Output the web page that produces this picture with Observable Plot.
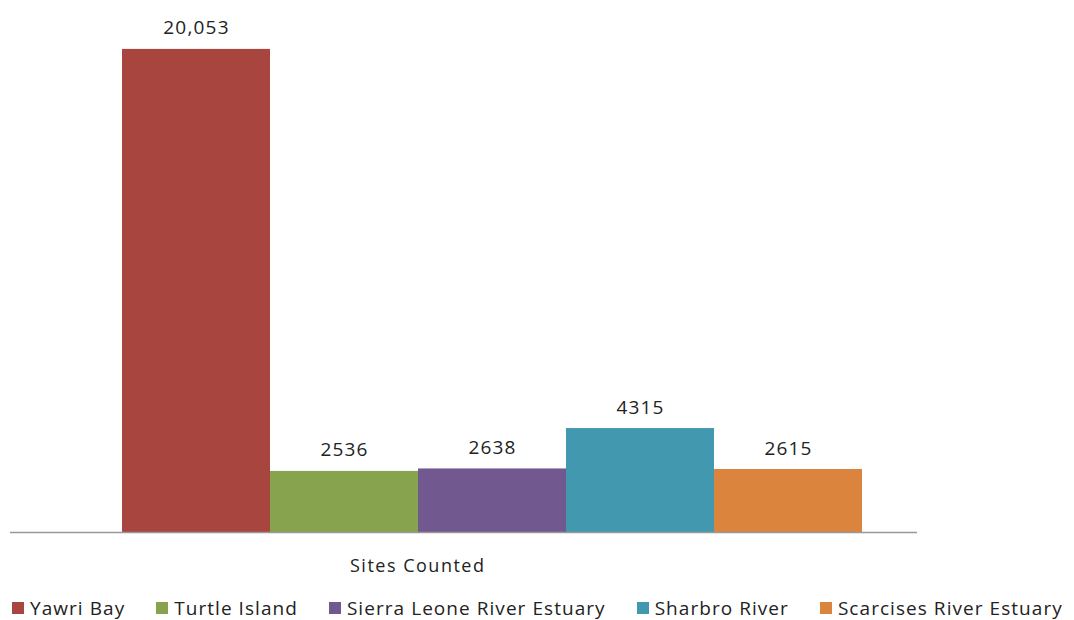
<!DOCTYPE html>
<html>
<head>
<meta charset="utf-8">
<script src="https://cdn.jsdelivr.net/npm/d3@7"></script>
<script src="https://cdn.jsdelivr.net/npm/@observablehq/plot@0.6"></script>
<style>
  html, body { margin: 0; padding: 0; background: #fff; }
  body { width: 1074px; height: 620px; overflow: hidden; font-family: "Open Sans", sans-serif; color: #222; }
  #chart svg { display: block; }
  #xlabel { position: relative; width: 1074px; height: 52px; }
  #xlabel span { position: absolute; left: 350px; top: 8px; font-size: 18px; letter-spacing: 1.5px; }
  #legend { display: flex; gap: 31px; padding-left: 12px; font-size: 19px; line-height: 22px; letter-spacing: 1.05px; }
  #legend .item { display: flex; align-items: center; white-space: nowrap; }
  #legend .sw { width: 12px; height: 12px; margin-right: 6px; display: inline-block; }
</style>
</head>
<body>
<div id="chart"></div>
<div id="xlabel"><span></span></div>
<div id="legend"></div>
<script>
const category = "Sites Counted";
const series = ["Yawri Bay", "Turtle Island", "Sierra Leone River Estuary", "Sharbro River", "Scarcises River Estuary"];
const values = [20053, 2536, 2638, 4315, 2615];
const valueLabels = ["20,053", "2536", "2638", "4315", "2615"];
const colors = ["#A8453F", "#87A34D", "#71588F", "#4298AE", "#DB843D"];

const data = series.map((s, i) => ({series: s, value: values[i], label: valueLabels[i], category}));

const chart = Plot.plot({
  width: 1074,
  height: 545,
  marginLeft: 10,
  marginRight: 157,
  marginTop: 2,
  marginBottom: 13,
  style: {fontFamily: "Open Sans, sans-serif", fontSize: "16px", color: "#222", background: "#fff"},
  x: {domain: series, paddingInner: 0, paddingOuter: 0.56, align: 0.669, axis: null},
  y: {domain: [0, 22000], axis: null},
  color: {domain: series, range: colors},
  marks: [
    Plot.barY(data, {x: "series", y: "value", fill: "series"}),
    Plot.text(data, {x: "series", y: "value", text: "label", lineAnchor: "bottom", dy: -15, fontSize: 19, fill: "#222"}),
    Plot.ruleY([0], {stroke: "#999", strokeWidth: 1.5})
  ]
});
chart.querySelectorAll("text").forEach(t => t.setAttribute("letter-spacing", "1.2"));
document.getElementById("chart").appendChild(chart);

document.querySelector("#xlabel span").textContent = category;

const legend = document.getElementById("legend");
series.forEach((s, i) => {
  const item = document.createElement("div");
  item.className = "item";
  const sw = document.createElement("span");
  sw.className = "sw";
  sw.style.background = colors[i];
  item.appendChild(sw);
  item.appendChild(document.createTextNode(s));
  legend.appendChild(item);
});
</script>
</body>
</html>
